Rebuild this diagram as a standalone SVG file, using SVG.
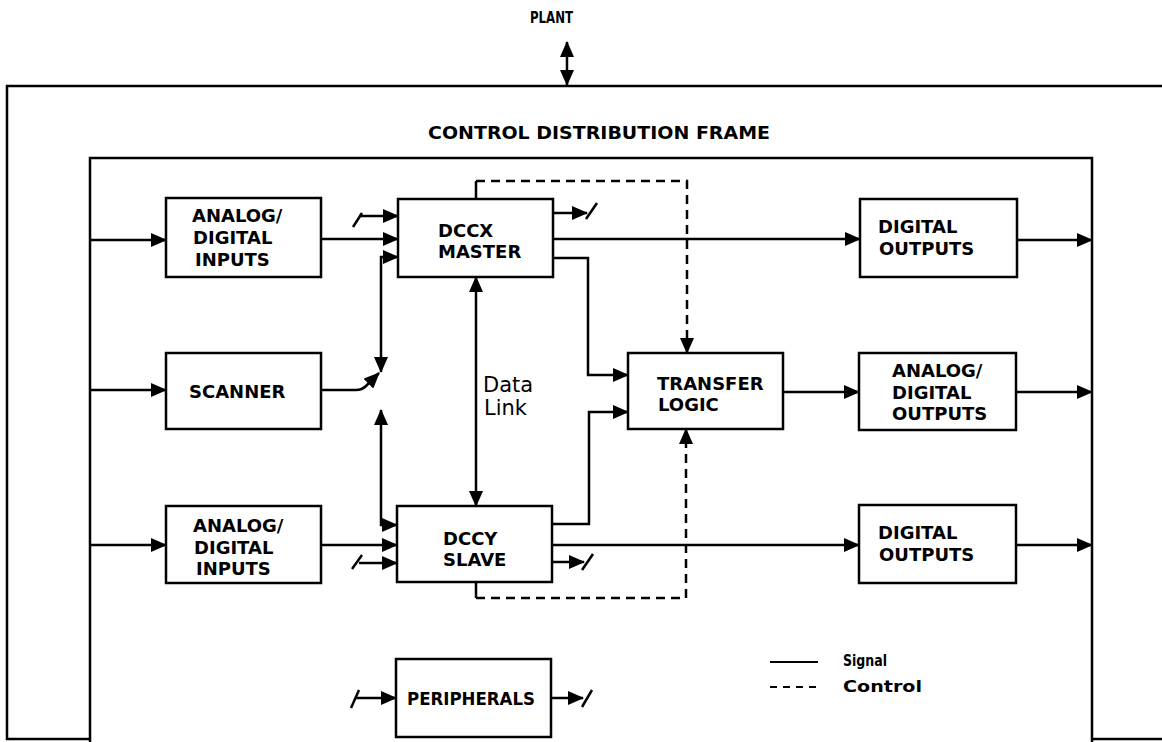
<svg xmlns="http://www.w3.org/2000/svg" width="1162" height="742" viewBox="0 0 1162 742">
<style>
.ln{fill:none;stroke:#000;stroke-width:2.5;stroke-linecap:butt;stroke-linejoin:miter}
.dash{fill:none;stroke:#000;stroke-width:2.5;stroke-dasharray:9 6}
.box{fill:#fff;stroke:#000;stroke-width:2.5}
.lbl{font-family:"DejaVu Sans","Liberation Sans",sans-serif;font-weight:bold;font-size:18px;fill:#000}
.reg{font-family:"DejaVu Sans","Liberation Sans",sans-serif;font-weight:normal;font-size:21px;fill:#000}
.arr{marker-end:url(#ah)}
.arr2{marker-start:url(#ah);marker-end:url(#ah)}
</style>
<defs>
<marker id="ah" markerUnits="userSpaceOnUse" markerWidth="16" markerHeight="14" refX="15" refY="7" orient="auto-start-reverse" viewBox="0 0 16 14">
<path d="M0,0 L16,7 L0,14 Z" fill="#000"/>
</marker>
</defs>
<rect width="1162" height="742" fill="#fff"/>

<g id="plant">
<text class="lbl" x="530" y="23" style="font-size:15px" textLength="43" lengthAdjust="spacingAndGlyphs">PLANT</text>
</g>

<g id="frame-outer">
<path class="ln" d="M1162,86 L7,86 L7,739 L90,739"/>
<path class="ln" d="M1092,739 L1162,739"/>
<text class="lbl" x="428" y="139" style="font-size:17px" textLength="342" lengthAdjust="spacingAndGlyphs">CONTROL DISTRIBUTION FRAME</text>
</g>

<g id="frame-inner">
<path class="ln" d="M90,742 L90,158 L1092,158 L1092,742"/>
</g>

<g id="adi-in-1">
<rect class="box" x="166" y="198" width="155" height="79"/>
<text class="lbl" x="192" y="222">ANALOG/</text>
<text class="lbl" x="193" y="244">DIGITAL</text>
<text class="lbl" x="195" y="266">INPUTS</text>
</g>

<g id="scanner">
<rect class="box" x="166" y="353" width="155" height="76"/>
<text class="lbl" x="189" y="398">SCANNER</text>
</g>

<g id="adi-in-2">
<rect class="box" x="166" y="506" width="155" height="77"/>
<text class="lbl" x="193" y="532">ANALOG/</text>
<text class="lbl" x="194" y="554">DIGITAL</text>
<text class="lbl" x="196" y="575">INPUTS</text>
</g>

<g id="dccx">
<rect class="box" x="398" y="199" width="155" height="78"/>
<text class="lbl" x="438" y="237">DCCX</text>
<text class="lbl" x="438" y="258">MASTER</text>
</g>

<g id="dccy">
<rect class="box" x="397" y="506" width="155" height="76"/>
<text class="lbl" x="443" y="545">DCCY</text>
<text class="lbl" x="443" y="566">SLAVE</text>
</g>

<g id="transfer-logic">
<rect class="box" x="628" y="353" width="155" height="76"/>
<text class="lbl" x="657" y="390">TRANSFER</text>
<text class="lbl" x="658" y="411">LOGIC</text>
</g>

<g id="dout-1">
<rect class="box" x="860" y="199" width="157" height="78"/>
<text class="lbl" x="878" y="233">DIGITAL</text>
<text class="lbl" x="879" y="255">OUTPUTS</text>
</g>

<g id="adout">
<rect class="box" x="859" y="353" width="157" height="77"/>
<text class="lbl" x="892" y="377">ANALOG/</text>
<text class="lbl" x="892" y="399">DIGITAL</text>
<text class="lbl" x="892" y="420">OUTPUTS</text>
</g>

<g id="dout-2">
<rect class="box" x="859" y="505" width="157" height="78"/>
<text class="lbl" x="878" y="539">DIGITAL</text>
<text class="lbl" x="879" y="561">OUTPUTS</text>
</g>

<g id="peripherals">
<rect class="box" x="396" y="659" width="155" height="78"/>
<text class="lbl" x="407" y="705" textLength="128" lengthAdjust="spacingAndGlyphs">PERIPHERALS</text>
</g>

<g id="data-link-label">
<text class="reg" x="483" y="392">Data</text>
<text class="reg" x="484" y="415">Link</text>
</g>

<g id="legend">
<line class="ln" x1="770" y1="662" x2="818" y2="662" style="stroke-width:2"/>
<line class="ln" x1="770" y1="687" x2="818" y2="687" style="stroke-width:2;stroke-dasharray:7 6"/>
<text class="lbl" x="843" y="666" style="font-size:15px" textLength="44" lengthAdjust="spacingAndGlyphs">Signal</text>
<text class="lbl" x="843" y="692" style="font-size:15px" textLength="79" lengthAdjust="spacingAndGlyphs">Control</text>
</g>

<g id="connectors">
<path class="ln arr2" d="M567,42 L567,85"/>
<path class="ln arr" d="M90,240 L166,240"/>
<path class="ln arr" d="M90,390 L166,390"/>
<path class="ln arr" d="M90,545 L166,545"/>
<path class="ln arr" d="M321,239 L398,239"/>
<path class="ln arr" d="M359,216 L398,216"/>
<path class="ln" d="M353,227 L362,213"/>
<path class="ln arr2" d="M381,372 L381,257 L398,257"/>
<path class="ln arr" d="M321,390 L356,390 Q362,390 366,386 L379,373"/>
<path class="ln arr2" d="M381,410 L381,525 L397,525"/>
<path class="ln arr" d="M321,545 L397,545"/>
<path class="ln arr" d="M359,563 L397,563"/>
<path class="ln" d="M352,569 L362,555"/>
<path class="ln arr" d="M553,213 L587,213"/>
<path class="ln" d="M586,219 L597,203"/>
<path class="ln arr" d="M553,239 L860,239"/>
<path class="ln arr" d="M553,258 L588,258 L588,375 L628,375"/>
<path class="ln arr2" d="M476,277 L476,506"/>
<path class="ln arr" d="M552,524 L589,524 L589,412 L628,412"/>
<path class="ln arr" d="M552,545 L859,545"/>
<path class="ln arr" d="M552,562 L584,562"/>
<path class="ln" d="M582,570 L593,554"/>
<path class="ln arr" d="M783,392 L859,392"/>
<path class="ln arr" d="M1017,240 L1092,240"/>
<path class="ln arr" d="M1016,392 L1092,392"/>
<path class="ln arr" d="M1016,545 L1092,545"/>
<path class="ln" d="M476,199 L476,181"/>
<path class="dash arr" d="M476,181 L687,181 L687,353"/>
<path class="ln" d="M476,582 L476,598"/>
<path class="dash arr" d="M476,598 L686,598 L686,429"/>
<path class="ln arr" d="M356,698 L396,698"/>
<path class="ln" d="M351,708 L359,690"/>
<path class="ln arr" d="M551,698 L583,698"/>
<path class="ln" d="M582,707 L592,690"/>
</g>
</svg>
